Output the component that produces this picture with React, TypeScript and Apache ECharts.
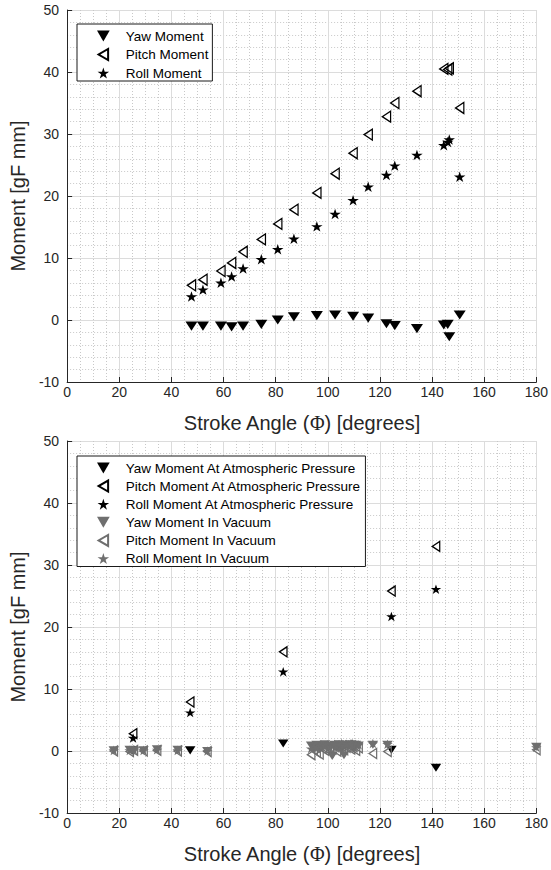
import React, { useEffect, useRef } from "react";
import * as echarts from "echarts";

// ---- Upper panel: moments vs stroke angle (atmospheric) ----
const topAngle = [47.7, 52.1, 59.0, 63.1, 67.5, 74.5, 80.8, 87.0, 95.8, 102.8, 109.7, 115.5, 122.5, 125.7, 134.2, 144.5, 146.0, 146.6, 150.6];
const topYaw = [-1.0, -1.0, -1.0, -1.1, -1.0, -0.7, 0.0, 0.5, 0.7, 0.8, 0.6, 0.3, -0.6, -0.9, -1.4, -0.8, -0.7, -2.7, 0.8];
const topPitch = [5.6, 6.5, 7.9, 9.2, 11.0, 13.0, 15.5, 17.8, 20.5, 23.6, 26.9, 29.9, 32.8, 35.0, 36.9, 40.5, 40.4, 40.6, 34.2];
const topRoll = [3.8, 4.9, 6.0, 7.0, 8.3, 9.8, 11.4, 13.1, 15.1, 17.1, 19.3, 21.5, 23.4, 24.9, 26.6, 28.2, 28.7, 29.1, 23.1];

// ---- Lower panel: atmospheric pressure vs vacuum ----
const atmAngle = [25.3, 47.2, 82.9, 124.4, 141.5];
const atmYaw = [0.1, 0.1, 1.2, 0.2, -2.7];
const atmPitch = [2.8, 7.9, 16.0, 25.8, 33.0];
const atmRoll = [2.1, 6.2, 12.8, 21.7, 26.1];

const vacAngle = [17.9, 24.0, 25.6, 29.3, 34.5, 42.4, 53.8, 93.6, 94.6, 95.7, 96.8, 97.9, 98.9, 99.8, 100.7, 101.7, 102.6, 103.5, 104.4, 105.3, 106.2, 107.1, 108.0, 108.9, 109.8, 110.8, 111.8, 117.3, 122.9, 180.0];
const vacYaw = [0.1, 0.2, 0.0, 0.1, 0.3, 0.2, 0.0, 0.9, 0.4, 1.0, 0.3, 0.8, 1.1, 0.5, 0.9, -0.8, 1.0, 0.6, 1.1, 0.2, -0.7, 1.0, 0.8, 1.1, 0.4, 1.0, 0.9, 1.0, 1.0, 0.7];
const vacPitch = [0.0, -0.1, 0.1, 0.0, 0.1, 0.0, -0.1, -0.6, 0.2, -0.2, -0.5, 0.4, 0.1, 0.6, -0.1, 0.3, 0.7, 0.0, 0.5, 0.8, 0.2, 0.6, 0.9, 0.3, 0.7, 0.1, 0.5, -0.4, -0.1, 0.2];
const vacRoll = [0.1, 0.1, 0.2, 0.1, 0.2, 0.1, 0.0, 0.4, 0.7, 0.5, 0.9, 0.6, 0.8, 1.0, 0.7, 0.9, 1.1, 0.8, 1.0, 1.2, 0.9, 1.1, 1.0, 1.2, 0.8, 1.1, 1.0, 1.2, 1.1, 0.6];

const topNames = ["Yaw Moment", "Pitch Moment", "Roll Moment"];
const bottomNames = [
  "Yaw Moment At Atmospheric Pressure",
  "Pitch Moment At Atmospheric Pressure",
  "Roll Moment At Atmospheric Pressure",
  "Yaw Moment In Vacuum",
  "Pitch Moment In Vacuum",
  "Roll Moment In Vacuum",
];

const FONT = "'Liberation Sans', Arial, Helvetica, sans-serif";
const AXIS_COLOR = "#262626";
const GRAY = "#6f6f6f";

const DOWN_TRI = "path://M0,0L10,0L5,8.66Z";
const LEFT_TRI = "path://M8.66,0L8.66,10L0,5Z";
const STAR =
  "path://M100,0L122.45,69.1L195.1,69.1L136.33,111.8L158.8,180.9L100,138.2L41.2,180.9L63.67,111.8L4.9,69.1L77.55,69.1Z";

const zip = (xs: number[], ys: number[]) => xs.map((x, i) => [x, ys[i]]);

function xAxisFor(gridIndex: number) {
  return {
    type: "value",
    gridIndex,
    min: 0,
    max: 180,
    interval: 20,
    name: "Stroke Angle ({phi|Φ}) [degrees]",
    nameLocation: "middle",
    nameGap: 31,
    nameTextStyle: {
      fontFamily: FONT,
      fontSize: 20,
      color: AXIS_COLOR,
      rich: { phi: { fontFamily: "'Liberation Serif', 'DejaVu Serif', serif", fontSize: 20, color: AXIS_COLOR } },
    },
    axisLine: { show: true, onZero: false, lineStyle: { color: AXIS_COLOR, width: 1 } },
    axisTick: { show: true, inside: true, length: 5, lineStyle: { color: AXIS_COLOR } },
    minorTick: { show: false, splitNumber: 4 },
    axisLabel: { fontFamily: FONT, fontSize: 14, color: AXIS_COLOR, margin: 3 },
    splitLine: { show: true, lineStyle: { color: "#dcdcdc", width: 1 } },
    minorSplitLine: { show: true, lineStyle: { color: "#c8c8c8", width: 1, type: [1, 2] } },
  };
}

function yAxisFor(gridIndex: number) {
  return {
    type: "value",
    gridIndex,
    min: -10,
    max: 50,
    interval: 10,
    name: "Moment [gF mm]",
    nameLocation: "middle",
    nameGap: 27,
    nameTextStyle: { fontFamily: FONT, fontSize: 20, color: AXIS_COLOR },
    axisLine: { show: true, onZero: false, lineStyle: { color: AXIS_COLOR, width: 1 } },
    axisTick: { show: true, inside: true, length: 5, lineStyle: { color: AXIS_COLOR } },
    minorTick: { show: false, splitNumber: 5 },
    axisLabel: { fontFamily: FONT, fontSize: 14, color: AXIS_COLOR, margin: 8 },
    splitLine: { show: true, lineStyle: { color: "#dcdcdc", width: 1 } },
    minorSplitLine: { show: true, lineStyle: { color: "#c8c8c8", width: 1, type: [1, 2] } },
  };
}

function scatter(
  name: string,
  idx: number,
  data: number[][],
  kind: "yaw" | "pitch" | "roll",
  color: string,
  size: number
) {
  const symbol = kind === "yaw" ? DOWN_TRI : kind === "pitch" ? LEFT_TRI : STAR;
  const symbolSize =
    kind === "yaw" ? [size + 1, size * 0.87 + 1] : kind === "pitch" ? [size * 0.87, size] : [size + 1, size + 0.5];
  return {
    type: "scatter",
    name,
    xAxisIndex: idx,
    yAxisIndex: idx,
    data,
    symbol,
    symbolSize,
    symbolKeepAspect: true,
    itemStyle:
      kind === "pitch"
        ? { color: "rgba(255,255,255,0)", borderColor: color, borderWidth: 1.3, opacity: 1 }
        : { color, borderWidth: 0, opacity: 1 },
    emphasis: { disabled: true },
  };
}

function legendFor(names: string[], top: number, gap: number) {
  return {
    data: names,
    orient: "vertical",
    left: 77,
    top,
    align: "left",
    itemWidth: 35,
    itemHeight: 11,
    itemGap: gap,
    padding: [5, 4, 1, 20],
    backgroundColor: "#ffffff",
    borderColor: "#1a1a1a",
    borderWidth: 1,
    selectedMode: false,
    textStyle: { fontFamily: FONT, fontSize: 13.5, color: "#000", lineHeight: 12.2, padding: [0, 0, 0, 0] },
  };
}

export default function App() {
  const ref = useRef<HTMLDivElement>(null);

  useEffect(() => {
    if (!ref.current) return;
    const chart = echarts.init(ref.current, undefined, { renderer: "svg" });

    const option = {
      animation: false,
      backgroundColor: "#ffffff",
      grid: [
        { left: 62, top: 10, width: 477, height: 372 },
        { left: 62, top: 441, width: 477, height: 372 },
      ],
      xAxis: [xAxisFor(0), xAxisFor(1)],
      yAxis: [yAxisFor(0), yAxisFor(1)],
      legend: [legendFor(topNames, 24, 4.5), legendFor(bottomNames, 456, 4.1)],
      series: [
        scatter(topNames[0], 0, zip(topAngle, topYaw), "yaw", "#000", 11),
        scatter(topNames[1], 0, zip(topAngle, topPitch), "pitch", "#000", 11),
        scatter(topNames[2], 0, zip(topAngle, topRoll), "roll", "#000", 10.5),
        scatter(bottomNames[0], 1, zip(atmAngle, atmYaw), "yaw", "#000", 9.5),
        scatter(bottomNames[1], 1, zip(atmAngle, atmPitch), "pitch", "#000", 10),
        scatter(bottomNames[2], 1, zip(atmAngle, atmRoll), "roll", "#000", 9.5),
        scatter(bottomNames[3], 1, zip(vacAngle, vacYaw), "yaw", GRAY, 9.5),
        scatter(bottomNames[4], 1, zip(vacAngle, vacPitch), "pitch", GRAY, 10),
        scatter(bottomNames[5], 1, zip(vacAngle, vacRoll), "roll", GRAY, 9.5),
      ],
    };

    chart.setOption(option as any);
    return () => chart.dispose();
  }, []);

  return (
    <div
      ref={ref}
      style={{ position: "fixed", left: 0, top: 0, width: 551, height: 870, background: "#fff" }}
    />
  );
}
